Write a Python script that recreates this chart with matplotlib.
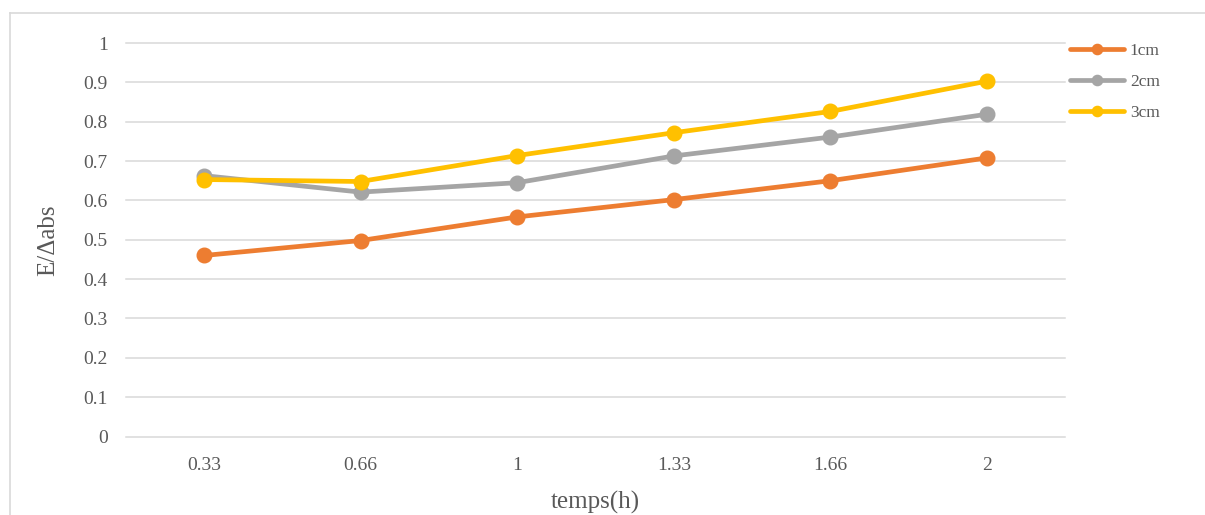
import matplotlib
matplotlib.use("Agg")
import matplotlib.pyplot as plt
from matplotlib.lines import Line2D

# Data
temps = ["0.33", "0.66", "1", "1.33", "1.66", "2"]
serie_1cm = [0.460, 0.498, 0.558, 0.602, 0.650, 0.708]
serie_2cm = [0.663, 0.621, 0.645, 0.713, 0.761, 0.819]
serie_3cm = [0.653, 0.648, 0.714, 0.772, 0.826, 0.903]
series_labels = ["1cm", "2cm", "3cm"]
y_ticks = [0, 0.1, 0.2, 0.3, 0.4, 0.5, 0.6, 0.7, 0.8, 0.9, 1]
y_tick_labels = ["0", "0.1", "0.2", "0.3", "0.4", "0.5", "0.6", "0.7", "0.8", "0.9", "1"]

colors = ["#ED7D31", "#A5A5A5", "#FFC000"]
text_color = "#595959"
grid_color = "#D9D9D9"

plt.rcParams["font.family"] = ["Liberation Serif", "DejaVu Serif"]

W, H = 1205, 515
fig = plt.figure(figsize=(W / 100, H / 100), dpi=100)
ax = fig.add_axes([125.7 / W, 1 - 436.5 / H, (1065.3 - 125.7) / W, (436.5 - 43) / H])

x = list(range(len(temps)))
for vals, col, lab in zip([serie_1cm, serie_2cm, serie_3cm], colors, series_labels):
    ax.plot(x, vals, color=col, lw=3.4, marker="o", markersize=10.5,
            solid_capstyle="round", label=lab, zorder=3)

ax.set_xlim(-0.5, len(temps) - 0.5)
ax.set_ylim(0, 1)
ax.set_yticks(y_ticks)
ax.set_yticklabels(y_tick_labels)
ax.set_xticks(x)
ax.set_xticklabels(temps)

for yv in y_ticks:
    ax.axhline(yv, color=grid_color, lw=1.1, zorder=1, clip_on=False)

for s in ax.spines.values():
    s.set_visible(False)
ax.tick_params(axis="both", length=0, labelsize=14, colors=text_color)
ax.tick_params(axis="y", pad=13)
ax.tick_params(axis="x", pad=15)

ax.set_ylabel("E/\u0394abs", fontsize=18, color=text_color, labelpad=17)
ax.set_xlabel("temps(h)", fontsize=18, color=text_color, labelpad=12)

leg = ax.legend(loc="upper left", bbox_to_anchor=(1070 / W, 1 - 43 / H),
                bbox_transform=fig.transFigure, frameon=False, fontsize=12.5,
                handlelength=3.1, handletextpad=0.35, labelspacing=0.85,
                markerscale=0.7, borderaxespad=0, borderpad=0)
for t in leg.get_texts():
    t.set_color(text_color)

# Outer chart-area border
fig.add_artist(Line2D([10 / W, 1], [1 - 13 / H, 1 - 13 / H], color=grid_color,
                      lw=1.2, transform=fig.transFigure))
fig.add_artist(Line2D([10 / W, 10 / W], [0, 1 - 13 / H], color=grid_color,
                      lw=1.2, transform=fig.transFigure))

fig.savefig("out.png", dpi=100)
